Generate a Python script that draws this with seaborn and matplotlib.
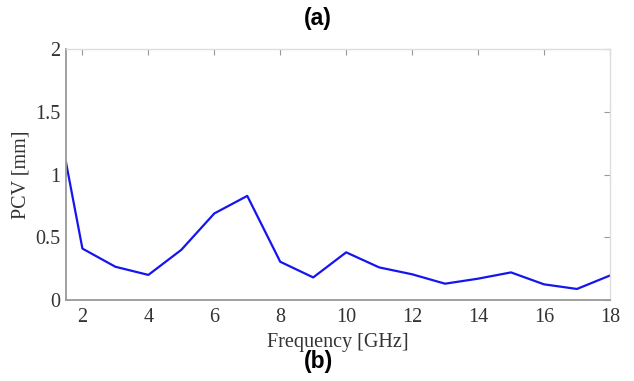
import matplotlib
matplotlib.use('Agg')
import matplotlib.pyplot as plt
import seaborn as sns

# frequency [GHz] and phase centre variation [mm]
freq = [1.5, 2, 3, 4, 5, 6, 7, 8, 9, 10, 11, 12, 13, 14, 15, 16, 17, 18]
pcv = [1.10, 0.41, 0.265, 0.20, 0.40, 0.69, 0.83, 0.305, 0.18, 0.38,
       0.26, 0.205, 0.13, 0.17, 0.22, 0.125, 0.088, 0.195]
xticks = [2, 4, 6, 8, 10, 12, 14, 16, 18]
yticks = [0, 0.5, 1, 1.5, 2]
ytick_labels = ['0', '0.5', '1', '1.5', '2']

sns.set_style('white')
plt.rcParams['font.family'] = ['Liberation Serif', 'DejaVu Serif']

fig = plt.figure(figsize=(6.34, 3.81), dpi=100)
ax = fig.add_axes([0.104, 0.2126, 0.858, 0.6584])

sns.lineplot(x=freq, y=pcv, ax=ax, color='#1515f0', linewidth=1.6)

ax.set_xlim(1.5, 18)
ax.set_ylim(0, 2)
ax.set_xticks(xticks)
ax.set_yticks(yticks)
ax.set_yticklabels(ytick_labels)
ax.tick_params(direction='in', length=4, color='#999999', labelsize=14.5,
               labelcolor='#333333', top=True, right=True)
ax.tick_params(axis='x', pad=6)
ax.tick_params(axis='y', pad=4)
ax.set_xlabel('Frequency [GHz]', fontsize=14.5, color='#333333', labelpad=4)
ax.set_ylabel('PCV [mm]', fontsize=14.5, color='#333333')
ax.yaxis.set_label_coords(-0.066, 0.5)

for side in ['top', 'right']:
    ax.spines[side].set_color('#dddddd')
    ax.spines[side].set_linewidth(1.0)
for side in ['left', 'bottom']:
    ax.spines[side].set_color('#999999')
    ax.spines[side].set_linewidth(1.3)

# panel labels
fig.text(0.502, 0.952, '(a)', ha='center', va='center', fontsize=16.5,
         fontweight='bold', color='black', family=['Liberation Sans', 'DejaVu Sans'])
fig.text(0.502, 0.05, '(b)', ha='center', va='center', fontsize=16.5,
         fontweight='bold', color='black', family=['Liberation Sans', 'DejaVu Sans'])

fig.savefig('out.png', dpi=100)
